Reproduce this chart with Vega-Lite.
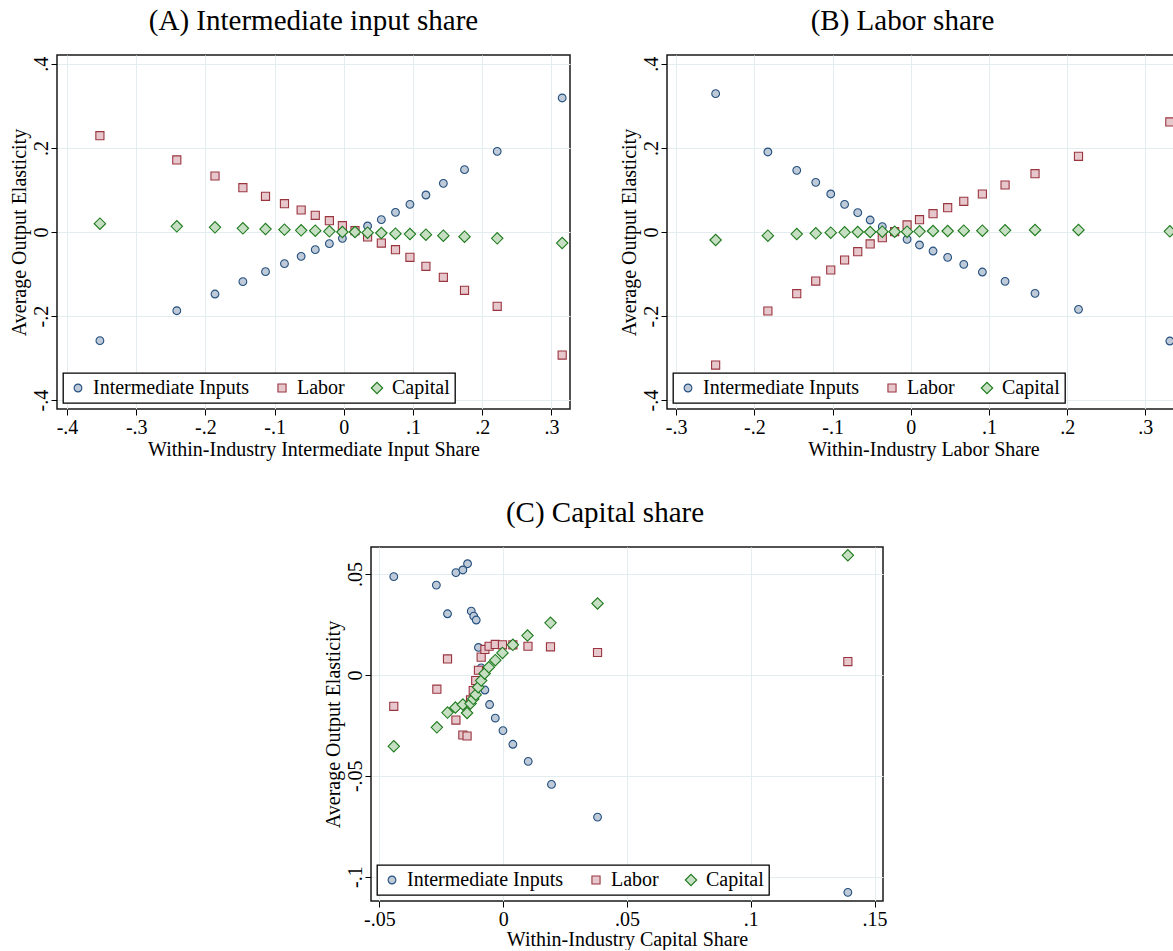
{
  "$schema": "https://vega.github.io/schema/vega-lite/v6.json",
  "padding": {"left": 8, "top": 6, "right": 0, "bottom": 0},
  "background": "white",
  "datasets": {
    "a": [
      {"s": "Intermediate Inputs", "x": -0.3525, "y": -0.2585},
      {"s": "Intermediate Inputs", "x": -0.2414, "y": -0.1872},
      {"s": "Intermediate Inputs", "x": -0.1862, "y": -0.1475},
      {"s": "Intermediate Inputs", "x": -0.1459, "y": -0.1182},
      {"s": "Intermediate Inputs", "x": -0.1132, "y": -0.0944},
      {"s": "Intermediate Inputs", "x": -0.0858, "y": -0.0753},
      {"s": "Intermediate Inputs", "x": -0.0617, "y": -0.0579},
      {"s": "Intermediate Inputs", "x": -0.0413, "y": -0.042},
      {"s": "Intermediate Inputs", "x": -0.0209, "y": -0.0278},
      {"s": "Intermediate Inputs", "x": -0.0021, "y": -0.0151},
      {"s": "Intermediate Inputs", "x": 0.0161, "y": 0.0},
      {"s": "Intermediate Inputs", "x": 0.0343, "y": 0.0143},
      {"s": "Intermediate Inputs", "x": 0.0542, "y": 0.0293},
      {"s": "Intermediate Inputs", "x": 0.0746, "y": 0.0468},
      {"s": "Intermediate Inputs", "x": 0.0955, "y": 0.0658},
      {"s": "Intermediate Inputs", "x": 0.1186, "y": 0.088},
      {"s": "Intermediate Inputs", "x": 0.1438, "y": 0.1158},
      {"s": "Intermediate Inputs", "x": 0.1744, "y": 0.1483},
      {"s": "Intermediate Inputs", "x": 0.2216, "y": 0.1919},
      {"s": "Intermediate Inputs", "x": 0.3155, "y": 0.3188},
      {"s": "Labor", "x": -0.3525, "y": 0.2292},
      {"s": "Labor", "x": -0.2414, "y": 0.1713},
      {"s": "Labor", "x": -0.1862, "y": 0.1332},
      {"s": "Labor", "x": -0.1459, "y": 0.1055},
      {"s": "Labor", "x": -0.1132, "y": 0.0849},
      {"s": "Labor", "x": -0.0858, "y": 0.0674},
      {"s": "Labor", "x": -0.0617, "y": 0.0523},
      {"s": "Labor", "x": -0.0413, "y": 0.0397},
      {"s": "Labor", "x": -0.0209, "y": 0.027},
      {"s": "Labor", "x": -0.0021, "y": 0.0151},
      {"s": "Labor", "x": 0.0161, "y": 0.0032},
      {"s": "Labor", "x": 0.0343, "y": -0.0119},
      {"s": "Labor", "x": 0.0542, "y": -0.0262},
      {"s": "Labor", "x": 0.0746, "y": -0.042},
      {"s": "Labor", "x": 0.0955, "y": -0.0603},
      {"s": "Labor", "x": 0.1186, "y": -0.0817},
      {"s": "Labor", "x": 0.1438, "y": -0.1078},
      {"s": "Labor", "x": 0.1744, "y": -0.1388},
      {"s": "Labor", "x": 0.2216, "y": -0.1768},
      {"s": "Labor", "x": 0.3155, "y": -0.2926},
      {"s": "Capital", "x": -0.3525, "y": 0.0198},
      {"s": "Capital", "x": -0.2414, "y": 0.0135},
      {"s": "Capital", "x": -0.1862, "y": 0.0111},
      {"s": "Capital", "x": -0.1459, "y": 0.0087},
      {"s": "Capital", "x": -0.1132, "y": 0.0071},
      {"s": "Capital", "x": -0.0858, "y": 0.0056},
      {"s": "Capital", "x": -0.0617, "y": 0.004},
      {"s": "Capital", "x": -0.0413, "y": 0.0032},
      {"s": "Capital", "x": -0.0209, "y": 0.0016},
      {"s": "Capital", "x": -0.0021, "y": 0.0},
      {"s": "Capital", "x": 0.0161, "y": 0.0},
      {"s": "Capital", "x": 0.0343, "y": -0.0016},
      {"s": "Capital", "x": 0.0542, "y": -0.0024},
      {"s": "Capital", "x": 0.0746, "y": -0.004},
      {"s": "Capital", "x": 0.0955, "y": -0.0048},
      {"s": "Capital", "x": 0.1186, "y": -0.0063},
      {"s": "Capital", "x": 0.1438, "y": -0.0087},
      {"s": "Capital", "x": 0.1744, "y": -0.0111},
      {"s": "Capital", "x": 0.2216, "y": -0.0151},
      {"s": "Capital", "x": 0.3155, "y": -0.0262}
    ],
    "b": [
      {"s": "Intermediate Inputs", "x": -0.2495, "y": 0.3291},
      {"s": "Intermediate Inputs", "x": -0.1827, "y": 0.1903},
      {"s": "Intermediate Inputs", "x": -0.1458, "y": 0.1467},
      {"s": "Intermediate Inputs", "x": -0.1215, "y": 0.1182},
      {"s": "Intermediate Inputs", "x": -0.1023, "y": 0.0904},
      {"s": "Intermediate Inputs", "x": -0.0846, "y": 0.0658},
      {"s": "Intermediate Inputs", "x": -0.0678, "y": 0.046},
      {"s": "Intermediate Inputs", "x": -0.0519, "y": 0.0285},
      {"s": "Intermediate Inputs", "x": -0.0364, "y": 0.0127},
      {"s": "Intermediate Inputs", "x": -0.0206, "y": -0.0008},
      {"s": "Intermediate Inputs", "x": -0.0047, "y": -0.0174},
      {"s": "Intermediate Inputs", "x": 0.0112, "y": -0.0309},
      {"s": "Intermediate Inputs", "x": 0.0285, "y": -0.0452},
      {"s": "Intermediate Inputs", "x": 0.0472, "y": -0.0603},
      {"s": "Intermediate Inputs", "x": 0.0678, "y": -0.0769},
      {"s": "Intermediate Inputs", "x": 0.0916, "y": -0.0952},
      {"s": "Intermediate Inputs", "x": 0.1206, "y": -0.1174},
      {"s": "Intermediate Inputs", "x": 0.1589, "y": -0.1459},
      {"s": "Intermediate Inputs", "x": 0.2145, "y": -0.184},
      {"s": "Intermediate Inputs", "x": 0.3313, "y": -0.2593},
      {"s": "Labor", "x": -0.2495, "y": -0.3164},
      {"s": "Labor", "x": -0.1827, "y": -0.1879},
      {"s": "Labor", "x": -0.1458, "y": -0.1467},
      {"s": "Labor", "x": -0.1215, "y": -0.1166},
      {"s": "Labor", "x": -0.1023, "y": -0.0904},
      {"s": "Labor", "x": -0.0846, "y": -0.0666},
      {"s": "Labor", "x": -0.0678, "y": -0.0468},
      {"s": "Labor", "x": -0.0519, "y": -0.0285},
      {"s": "Labor", "x": -0.0364, "y": -0.0135},
      {"s": "Labor", "x": -0.0206, "y": 0.0008},
      {"s": "Labor", "x": -0.0047, "y": 0.0167},
      {"s": "Labor", "x": 0.0112, "y": 0.0293},
      {"s": "Labor", "x": 0.0285, "y": 0.0436},
      {"s": "Labor", "x": 0.0472, "y": 0.0579},
      {"s": "Labor", "x": 0.0678, "y": 0.073},
      {"s": "Labor", "x": 0.0916, "y": 0.0904},
      {"s": "Labor", "x": 0.1206, "y": 0.1118},
      {"s": "Labor", "x": 0.1589, "y": 0.1388},
      {"s": "Labor", "x": 0.2145, "y": 0.18},
      {"s": "Labor", "x": 0.3313, "y": 0.2617},
      {"s": "Capital", "x": -0.2495, "y": -0.019},
      {"s": "Capital", "x": -0.1827, "y": -0.0087},
      {"s": "Capital", "x": -0.1458, "y": -0.0048},
      {"s": "Capital", "x": -0.1215, "y": -0.0032},
      {"s": "Capital", "x": -0.1023, "y": -0.0016},
      {"s": "Capital", "x": -0.0846, "y": -0.0008},
      {"s": "Capital", "x": -0.0678, "y": 0.0},
      {"s": "Capital", "x": -0.0519, "y": 0.0},
      {"s": "Capital", "x": -0.0364, "y": 0.0008},
      {"s": "Capital", "x": -0.0206, "y": 0.0008},
      {"s": "Capital", "x": -0.0047, "y": 0.0008},
      {"s": "Capital", "x": 0.0112, "y": 0.0016},
      {"s": "Capital", "x": 0.0285, "y": 0.0024},
      {"s": "Capital", "x": 0.0472, "y": 0.0024},
      {"s": "Capital", "x": 0.0678, "y": 0.0032},
      {"s": "Capital", "x": 0.0916, "y": 0.0032},
      {"s": "Capital", "x": 0.1206, "y": 0.004},
      {"s": "Capital", "x": 0.1589, "y": 0.0048},
      {"s": "Capital", "x": 0.2145, "y": 0.0048},
      {"s": "Capital", "x": 0.3313, "y": 0.0016}
    ],
    "c": [
      {"s": "Intermediate Inputs", "x": -0.0442, "y": 0.0487},
      {"s": "Intermediate Inputs", "x": -0.027, "y": 0.0445},
      {"s": "Intermediate Inputs", "x": -0.0225, "y": 0.0303},
      {"s": "Intermediate Inputs", "x": -0.0191, "y": 0.0507},
      {"s": "Intermediate Inputs", "x": -0.0163, "y": 0.052},
      {"s": "Intermediate Inputs", "x": -0.0144, "y": 0.0551},
      {"s": "Intermediate Inputs", "x": -0.0129, "y": 0.0316},
      {"s": "Intermediate Inputs", "x": -0.0119, "y": 0.0291},
      {"s": "Intermediate Inputs", "x": -0.0109, "y": 0.0272},
      {"s": "Intermediate Inputs", "x": -0.01, "y": 0.0136},
      {"s": "Intermediate Inputs", "x": -0.0089, "y": 0.0035},
      {"s": "Intermediate Inputs", "x": -0.0074, "y": -0.0075},
      {"s": "Intermediate Inputs", "x": -0.0055, "y": -0.0147},
      {"s": "Intermediate Inputs", "x": -0.0032, "y": -0.0214},
      {"s": "Intermediate Inputs", "x": -0.0001, "y": -0.0276},
      {"s": "Intermediate Inputs", "x": 0.0039, "y": -0.0344},
      {"s": "Intermediate Inputs", "x": 0.0101, "y": -0.0429},
      {"s": "Intermediate Inputs", "x": 0.0195, "y": -0.0543},
      {"s": "Intermediate Inputs", "x": 0.0381, "y": -0.0705},
      {"s": "Intermediate Inputs", "x": 0.1392, "y": -0.1078},
      {"s": "Labor", "x": -0.0442, "y": -0.0156},
      {"s": "Labor", "x": -0.0268, "y": -0.0071},
      {"s": "Labor", "x": -0.0225, "y": 0.0079},
      {"s": "Labor", "x": -0.0191, "y": -0.0224},
      {"s": "Labor", "x": -0.0163, "y": -0.0298},
      {"s": "Labor", "x": -0.0146, "y": -0.0303},
      {"s": "Labor", "x": -0.0132, "y": -0.0124},
      {"s": "Labor", "x": -0.0121, "y": -0.0078},
      {"s": "Labor", "x": -0.0111, "y": -0.0028},
      {"s": "Labor", "x": -0.01, "y": 0.0023},
      {"s": "Labor", "x": -0.0089, "y": 0.0088},
      {"s": "Labor", "x": -0.0074, "y": 0.0126},
      {"s": "Labor", "x": -0.0057, "y": 0.0142},
      {"s": "Labor", "x": -0.0032, "y": 0.0151},
      {"s": "Labor", "x": -0.0003, "y": 0.0149},
      {"s": "Labor", "x": 0.0039, "y": 0.0149},
      {"s": "Labor", "x": 0.01, "y": 0.0142},
      {"s": "Labor", "x": 0.0191, "y": 0.0139},
      {"s": "Labor", "x": 0.0381, "y": 0.0111},
      {"s": "Labor", "x": 0.1392, "y": 0.0066},
      {"s": "Capital", "x": -0.0442, "y": -0.0354},
      {"s": "Capital", "x": -0.0268, "y": -0.026},
      {"s": "Capital", "x": -0.0225, "y": -0.0187},
      {"s": "Capital", "x": -0.0193, "y": -0.0162},
      {"s": "Capital", "x": -0.0163, "y": -0.0147},
      {"s": "Capital", "x": -0.0146, "y": -0.0189},
      {"s": "Capital", "x": -0.0132, "y": -0.0142},
      {"s": "Capital", "x": -0.0121, "y": -0.0119},
      {"s": "Capital", "x": -0.0111, "y": -0.0098},
      {"s": "Capital", "x": -0.0101, "y": -0.0061},
      {"s": "Capital", "x": -0.0089, "y": -0.0028},
      {"s": "Capital", "x": -0.0075, "y": 0.0007},
      {"s": "Capital", "x": -0.0058, "y": 0.0038},
      {"s": "Capital", "x": -0.0032, "y": 0.0073},
      {"s": "Capital", "x": -0.0003, "y": 0.0109},
      {"s": "Capital", "x": 0.0039, "y": 0.0149},
      {"s": "Capital", "x": 0.0098, "y": 0.0195},
      {"s": "Capital", "x": 0.0191, "y": 0.0258},
      {"s": "Capital", "x": 0.0381, "y": 0.0354},
      {"s": "Capital", "x": 0.1392, "y": 0.0593}
    ],
    "empty": []
  },
  "vconcat": [
    {
      "hconcat": [
        {
          "title": {"text": "(A) Intermediate input share", "dx": 0},
          "width": 513, "height": 354,
          "view": {"stroke": "#1a1a1a", "strokeWidth": 1.5},
          "data": {"name": "a"},
          "mark": {"type": "point", "filled": true, "strokeWidth": 1.1, "opacity": 1},
          "encoding": {
            "x": {"field": "x", "type": "quantitative", "title": "Within-Industry Intermediate Input Share",
                  "scale": {"domain": [-0.4145, 0.3268], "nice": false, "zero": false},
                  "axis": {"values": [-0.4, -0.3, -0.2, -0.1, 0, 0.1, 0.2, 0.3]}},
            "y": {"field": "y", "type": "quantitative", "title": "Average Output Elasticity",
                  "scale": {"domain": [-0.421, 0.421], "nice": false, "zero": false},
                  "axis": {"values": [-0.4, -0.2, 0, 0.2, 0.4]}},
            "shape": {"field": "s", "type": "nominal", "title": null, "scale": {"domain": ["Intermediate Inputs", "Labor", "Capital"], "range": ["circle", "square", "diamond"]}},
            "fill": {"field": "s", "type": "nominal", "title": null, "scale": {"domain": ["Intermediate Inputs", "Labor", "Capital"], "range": ["#bfcad8", "#e6c8cc", "#c6dfc2"]}},
            "stroke": {"field": "s", "type": "nominal", "title": null, "scale": {"domain": ["Intermediate Inputs", "Labor", "Capital"], "range": ["#24507f", "#9a3540", "#1d7a1d"]}},
            "size": {"field": "s", "type": "nominal", "title": null, "scale": {"type": "ordinal", "domain": ["Intermediate Inputs", "Labor", "Capital"], "range": [60, 66, 130]}}
          }
        },
        {
          "title": {"text": "(B) Labor share", "dx": -21},
          "width": 513, "height": 354,
          "view": {"stroke": "#1a1a1a", "strokeWidth": 1.5},
          "data": {"name": "b"},
          "mark": {"type": "point", "filled": true, "strokeWidth": 1.1, "opacity": 1},
          "encoding": {
            "x": {"field": "x", "type": "quantitative", "title": "Within-Industry Labor Share",
                  "scale": {"domain": [-0.3117, 0.3443], "nice": false, "zero": false},
                  "axis": {"values": [-0.3, -0.2, -0.1, 0, 0.1, 0.2, 0.3]}},
            "y": {"field": "y", "type": "quantitative", "title": "Average Output Elasticity",
                  "scale": {"domain": [-0.421, 0.421], "nice": false, "zero": false},
                  "axis": {"values": [-0.4, -0.2, 0, 0.2, 0.4]}},
            "shape": {"field": "s", "type": "nominal", "title": null, "scale": {"domain": ["Intermediate Inputs", "Labor", "Capital"], "range": ["circle", "square", "diamond"]}},
            "fill": {"field": "s", "type": "nominal", "title": null, "scale": {"domain": ["Intermediate Inputs", "Labor", "Capital"], "range": ["#bfcad8", "#e6c8cc", "#c6dfc2"]}},
            "stroke": {"field": "s", "type": "nominal", "title": null, "scale": {"domain": ["Intermediate Inputs", "Labor", "Capital"], "range": ["#24507f", "#9a3540", "#1d7a1d"]}},
            "size": {"field": "s", "type": "nominal", "title": null, "scale": {"type": "ordinal", "domain": ["Intermediate Inputs", "Labor", "Capital"], "range": [60, 66, 130]}}
          }
        }
      ],
      "spacing": 47,
      "resolve": {"scale": {"shape": "independent", "fill": "independent", "stroke": "independent", "size": "independent"}, "legend": {"shape": "independent", "fill": "independent", "stroke": "independent", "size": "independent"}}
    },
    {
      "hconcat": [
        {
          "width": 265, "height": 10,
          "view": {"stroke": null},
          "data": {"name": "empty"},
          "mark": {"type": "point", "opacity": 0},
          "encoding": {}
        },
        {
          "title": {"text": "(C) Capital share", "dx": -22},
          "width": 512, "height": 354,
          "view": {"stroke": "#1a1a1a", "strokeWidth": 1.5},
          "data": {"name": "c"},
          "mark": {"type": "point", "filled": true, "strokeWidth": 1.1, "opacity": 1},
          "encoding": {
            "x": {"field": "x", "type": "quantitative", "title": "Within-Industry Capital Share",
                  "scale": {"domain": [-0.0534, 0.1534], "nice": false, "zero": false},
                  "axis": {"values": [-0.05, 0, 0.05, 0.1, 0.15], "titlePadding": 0}},
            "y": {"field": "y", "type": "quantitative", "title": "Average Output Elasticity",
                  "scale": {"domain": [-0.1121, 0.0634], "nice": false, "zero": false},
                  "axis": {"values": [-0.1, -0.05, 0, 0.05]}},
            "shape": {"field": "s", "type": "nominal", "title": null, "scale": {"domain": ["Intermediate Inputs", "Labor", "Capital"], "range": ["circle", "square", "diamond"]}},
            "fill": {"field": "s", "type": "nominal", "title": null, "scale": {"domain": ["Intermediate Inputs", "Labor", "Capital"], "range": ["#bfcad8", "#e6c8cc", "#c6dfc2"]}},
            "stroke": {"field": "s", "type": "nominal", "title": null, "scale": {"domain": ["Intermediate Inputs", "Labor", "Capital"], "range": ["#24507f", "#9a3540", "#1d7a1d"]}},
            "size": {"field": "s", "type": "nominal", "title": null, "scale": {"type": "ordinal", "domain": ["Intermediate Inputs", "Labor", "Capital"], "range": [60, 66, 130]}}
          }
        }
      ],
      "spacing": 0,
      "resolve": {"scale": {"shape": "independent", "fill": "independent", "stroke": "independent", "size": "independent"}, "legend": {"shape": "independent", "fill": "independent", "stroke": "independent", "size": "independent"}}
    }
  ],
  "spacing": 38,
  "resolve": {"scale": {"shape": "independent", "fill": "independent", "stroke": "independent", "size": "independent"}, "legend": {"shape": "independent", "fill": "independent", "stroke": "independent", "size": "independent"}},
  "config": {
    "font": "Liberation Serif",
    "view": {"stroke": null},
    "title": {"font": "Liberation Serif", "fontSize": 29, "fontWeight": "normal", "color": "#000", "anchor": "middle", "offset": 19},
    "axis": {
      "labelFont": "Liberation Serif", "titleFont": "Liberation Serif",
      "labelFontSize": 20, "titleFontSize": 20, "titleFontWeight": "normal",
      "labelColor": "#000", "titleColor": "#000", "tickColor": "#000",
      "tickSize": 6, "tickWidth": 1, "domain": false,
      "grid": true, "gridColor": "#e3ecee", "gridWidth": 1,
      "labelPadding": 2, "titlePadding": 2,
      "labelExpr": "datum.value == 0 ? '0' : (datum.value < 0 ? '-' : '') + substring(format(abs(datum.value), '.2~f'), 1)"
    },
    "axisY": {"labelAngle": 270, "labelAlign": "center", "labelBaseline": "bottom", "labelPadding": 0, "titlePadding": 2},
    "axisX": {"labelFlush": false},
    "legend": {
      "orient": "bottom-left", "direction": "horizontal", "offset": 6,
      "strokeColor": "#000", "strokeWidth": 1.3, "fillColor": "#fff", "padding": 5,
      "labelFont": "Liberation Serif", "labelFontSize": 20, "labelColor": "#000",
      "symbolStrokeWidth": 1.1, "labelOffset": 5, "columnPadding": 22,
      "titlePadding": 0
    }
  }
}
